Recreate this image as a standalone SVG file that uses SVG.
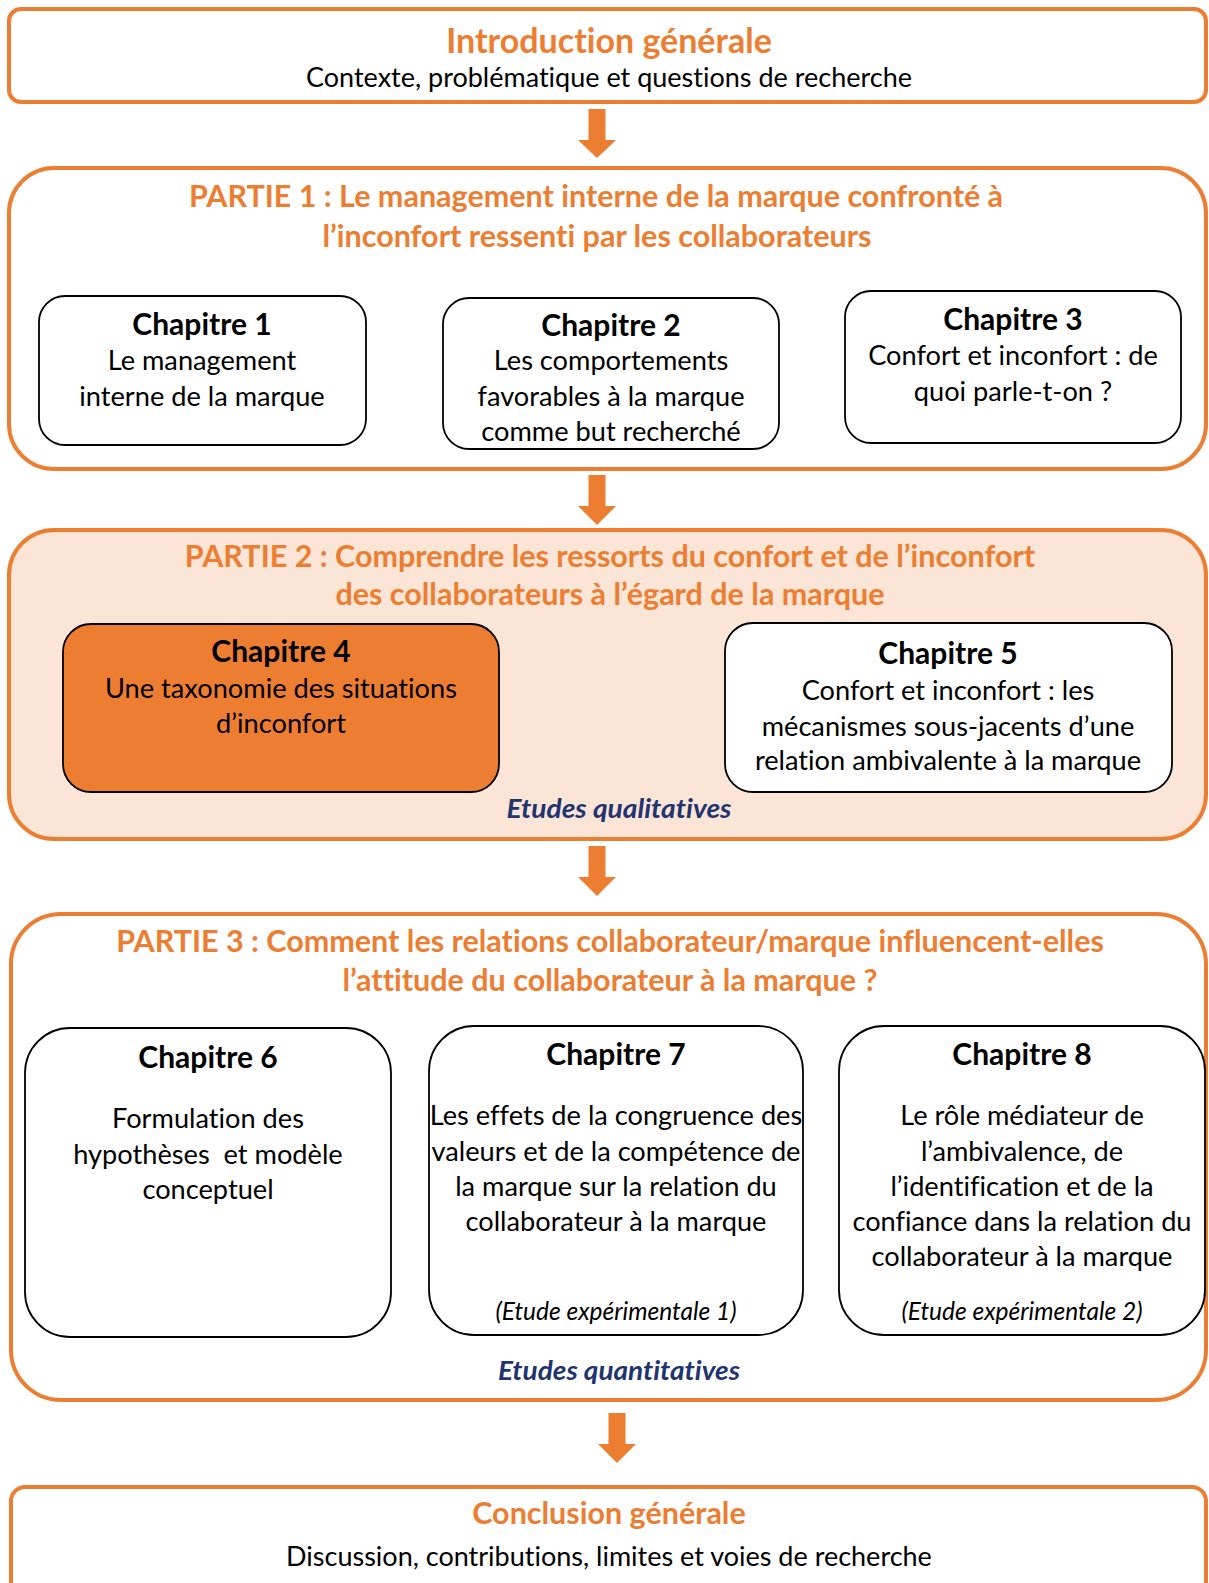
<svg xmlns="http://www.w3.org/2000/svg" width="1209" height="1583" viewBox="0 0 1209 1583">
<style>
.part{fill:#ffffff;stroke:#ED7D31;stroke-width:4}
.part2{fill:#FBE5D6;stroke:#ED7D31;stroke-width:4}
.ch{fill:#ffffff;stroke:#000000;stroke-width:1.8}
.ch4{fill:#ED7D31;stroke:#000000;stroke-width:1.8}
text{font-family:Lato,"Liberation Sans",sans-serif;text-anchor:middle;fill:#000000;font-variant-ligatures:none;font-feature-settings:"liga" 0,"clig" 0}
.ttl{font-weight:bold;font-size:34px;fill:#ED7D31}
.ctl{font-weight:bold;font-size:30.5px;fill:#ED7D31}
.ptl{font-weight:bold;font-size:30.5px;fill:#ED7D31}
.sub{font-size:27px}
.cht{font-weight:bold;font-size:30px}
.body{font-size:27.2px}
.et{font-weight:bold;font-style:italic;font-size:26px;fill:#1F3471}
.exp{font-style:italic;font-size:24.5px}
.arr{fill:#ED7D31}
</style>

<g id="intro">
<rect class="part" x="9" y="9" width="1197" height="93" rx="12"/>
<text class="ttl" x="609" y="53">Introduction générale</text>
<text class="sub" x="609" y="87">Contexte, problématique et questions de recherche</text>
</g>

<g id="partie1">
<rect class="part" x="9" y="168" width="1197" height="301" rx="45"/>
<text class="ptl" x="596" y="207">PARTIE 1 : Le management interne de la marque confronté à</text>
<text class="ptl" x="597" y="247">l’inconfort ressenti par les collaborateurs</text>
</g>

<g id="chapitre1">
<rect class="ch" x="39" y="296" width="327" height="149" rx="26"/>
<text class="cht" x="202" y="335">Chapitre 1</text>
<text class="body" x="202" y="370">Le management</text>
<text class="body" x="202" y="406">interne de la marque</text>
</g>

<g id="chapitre2">
<rect class="ch" x="443" y="298" width="336" height="151" rx="26"/>
<text class="cht" x="611" y="336">Chapitre 2</text>
<text class="body" x="611" y="370">Les comportements</text>
<text class="body" x="611" y="406">favorables à la marque</text>
<text class="body" x="611" y="441">comme but recherché</text>
</g>

<g id="chapitre3">
<rect class="ch" x="845" y="291" width="336" height="152" rx="26"/>
<text class="cht" x="1013" y="330">Chapitre 3</text>
<text class="body" x="1013" y="365">Confort et inconfort : de</text>
<text class="body" x="1013" y="401">quoi parle-t-on ?</text>
</g>

<g id="partie2">
<rect class="part2" x="9" y="530" width="1197" height="309" rx="45"/>
<text class="ptl" x="610" y="567">PARTIE 2 : Comprendre les ressorts du confort et de l’inconfort</text>
<text class="ptl" x="610" y="605">des collaborateurs à l’égard de la marque</text>
<text class="et" x="619" y="818" textLength="225" lengthAdjust="spacingAndGlyphs">Etudes qualitatives</text>
</g>

<g id="chapitre4">
<rect class="ch4" x="63" y="624" width="436" height="168" rx="28"/>
<text class="cht" x="281" y="662">Chapitre 4</text>
<text class="body" x="281" y="698">Une taxonomie des situations</text>
<text class="body" x="281" y="733">d’inconfort</text>
</g>

<g id="chapitre5">
<rect class="ch" x="725" y="623" width="447" height="169" rx="28"/>
<text class="cht" x="948" y="664">Chapitre 5</text>
<text class="body" x="948" y="700">Confort et inconfort : les</text>
<text class="body" x="948" y="736">mécanismes sous-jacents d’une</text>
<text class="body" x="948" y="770">relation ambivalente à la marque</text>
</g>

<g id="partie3">
<rect class="part" x="11" y="914" width="1195" height="486" rx="50"/>
<text class="ptl" x="610" y="952">PARTIE 3 : Comment les relations collaborateur/marque influencent-elles</text>
<text class="ptl" x="610" y="991">l’attitude du collaborateur à la marque ?</text>
<text class="et" x="619" y="1380" textLength="242" lengthAdjust="spacingAndGlyphs">Etudes quantitatives</text>
</g>

<g id="chapitre6">
<rect class="ch" x="25" y="1028" width="366" height="309" rx="45"/>
<text class="cht" x="208" y="1068">Chapitre 6</text>
<text class="body" x="208" y="1128">Formulation des</text>
<text class="body" x="208" y="1164" xml:space="preserve">hypothèses  et modèle</text>
<text class="body" x="208" y="1199">conceptuel</text>
</g>

<g id="chapitre7">
<rect class="ch" x="429" y="1026" width="374" height="309" rx="45"/>
<text class="cht" x="616" y="1065">Chapitre 7</text>
<text class="body" x="616" y="1125">Les effets de la congruence des</text>
<text class="body" x="616" y="1161">valeurs et de la compétence de</text>
<text class="body" x="616" y="1196">la marque sur la relation du</text>
<text class="body" x="616" y="1231">collaborateur à la marque</text>
<text class="exp" x="616" y="1320">(Etude expérimentale 1)</text>
</g>

<g id="chapitre8">
<rect class="ch" x="839" y="1026" width="366" height="309" rx="45"/>
<text class="cht" x="1022" y="1065">Chapitre 8</text>
<text class="body" x="1022" y="1125">Le rôle médiateur de</text>
<text class="body" x="1022" y="1161">l’ambivalence, de</text>
<text class="body" x="1022" y="1196">l’identification et de la</text>
<text class="body" x="1022" y="1231">confiance dans la relation du</text>
<text class="body" x="1022" y="1266">collaborateur à la marque</text>
<text class="exp" x="1022" y="1320">(Etude expérimentale 2)</text>
</g>

<g id="conclusion">
<rect class="part" x="11" y="1487" width="1195" height="130" rx="14"/>
<text class="ctl" x="609" y="1524">Conclusion générale</text>
<text class="sub" x="609" y="1566">Discussion, contributions, limites et voies de recherche</text>
</g>

<g id="connectors">
<polygon class="arr" points="588.5,109 605.5,109 605.5,140 616,140 597,158 578,140 588.5,140"/>
<polygon class="arr" points="588.5,475 605.5,475 605.5,506 616,506 597,525 578,506 588.5,506"/>
<polygon class="arr" points="588.5,846 605.5,846 605.5,877 616,877 597,896 578,877 588.5,877"/>
<polygon class="arr" points="608.5,1413 625.5,1413 625.5,1444 636,1444 617,1463 598,1444 608.5,1444"/>
</g>
</svg>
